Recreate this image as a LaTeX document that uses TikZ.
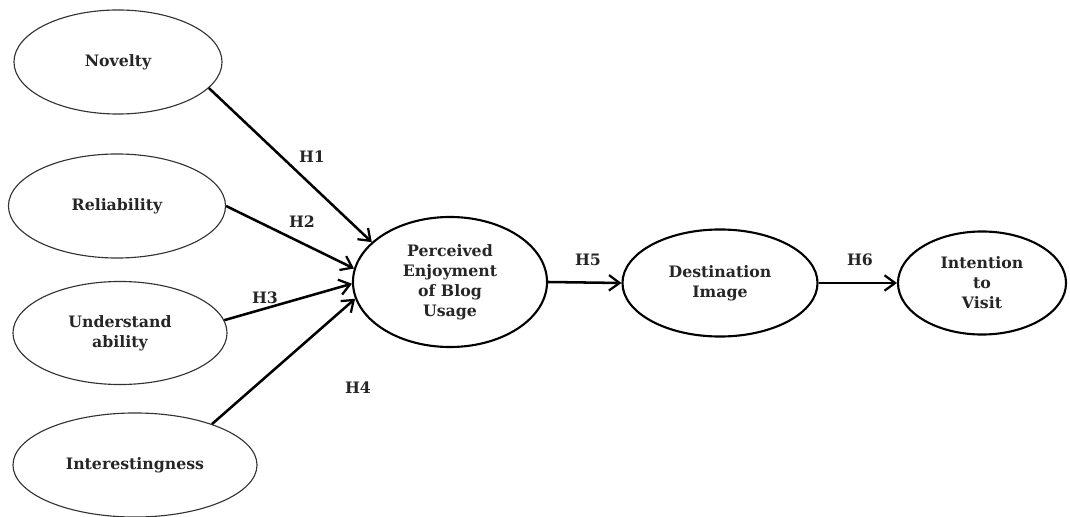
\documentclass[tikz,border=0pt]{standalone}
\usepackage{fontspec}
\setmainfont{DejaVu Serif}
\usetikzlibrary{
    positioning,
    calc,
    shapes.geometric,
    arrows.meta
}

\begin{document}
\begin{tikzpicture}[
                x=0.025cm, y=-0.025cm,
                every node/.style={align=center, text=black!85},
                construto/.style={
                    ellipse,
                    draw=black!80,
                    line width=0.8pt,
                    inner sep=0pt,
                    font=\fontsize{11.2}{14.3}\selectfont\bfseries
                },
                principal/.style={
                    ellipse,
                    draw=black,
                    line width=1.5pt,
                    inner sep=0pt,
                    font=\fontsize{11.2}{14.3}\selectfont\bfseries
                },
                hipotese/.style={
                    font=\fontsize{11.2}{14.3}\selectfont\bfseries
                },
                seta/.style={
                    -{Straight Barb[length=7.5pt, width=11pt, line width=1.6pt]},
                    line width=1.8pt
                }
            ]

                \useasboundingbox (0,0) rectangle (1070,517);


                \node[
                    construto,
                    minimum width=5.2cm,
                    minimum height=2.6cm
                ] (novidade) at (118,62) {Novelty};


                \node[
                    construto,
                    minimum width=5.425cm,
                    minimum height=2.6cm
                ] (confiab) at (117,206) {Reliability};


                \node[
                    construto,
                    minimum width=5.35cm,
                    minimum height=2.575cm
                ] (compreens) at (120,333) {Understand\\ability};


                \node[
                    construto,
                    minimum width=6.1cm,
                    minimum height=2.6cm
                ] (interesse) at (135,465) {Interestingness};


                \node[
                    principal,
                    minimum width=4.85cm,
                    minimum height=3.25cm
                ] (prazer) at (450,282) {Perceived\\Enjoyment\\of Blog\\Usage};


                \node[
                    principal,
                    minimum width=4.875cm,
                    minimum height=2.675cm
                ] (imagem) at (720,283) {Destination\\Image};


                \node[
                    principal,
                    minimum width=4.2cm,
                    minimum height=2.575cm
                ] (intencao) at (982,283) {Intention\\to\\Visit};


                \draw[seta] (novidade.-16) -- (prazer.153);
                \draw[seta] (confiab.east) -- (prazer.172);
                \draw[seta] (compreens.7) -- (prazer.181);
                \draw[seta] (interesse.28) -- (prazer.190);
                \draw[seta] (prazer.east) -- (imagem.west);
                \draw[seta] (imagem.east) -- (intencao.west);


                \node[hipotese] (h1) at (312,157) {H1};
                \node[hipotese] (h2) at (302,222) {H2};
                \node[hipotese] (h3) at (265,298) {H3};
                \node[hipotese] (h4) at (358,388) {H4};
                \node[hipotese] (h5) at (588,260) {H5};
                \node[hipotese] (h6) at (860,260) {H6};

            \end{tikzpicture}
\end{document}
